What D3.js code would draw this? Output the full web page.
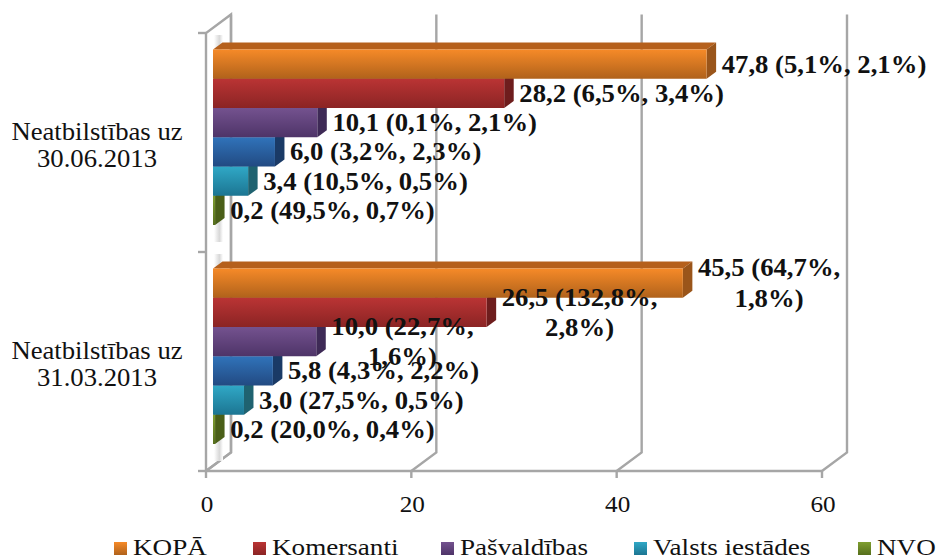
<!DOCTYPE html>
<html><head><meta charset="utf-8">
<script src="https://cdn.jsdelivr.net/npm/d3@7/dist/d3.min.js"></script>
<style>html,body{margin:0;padding:0;background:#fff}svg{display:block}
text{font-family:"Liberation Serif",serif;fill:#111}</style></head>
<body><div id="c"></div>
<script>
const categories=["Neatbilstības uz\n30.06.2013","Neatbilstības uz\n31.03.2013"];
const seriesKeys=["KOPĀ","Komersanti","Pašvaldības","Neuzrādīts","Valsts iestādes","NVO"];
const kopa=[47.8,45.5];
const komersanti=[28.2,26.5];
const pasvaldibas=[10.1,10.0];
const neuzradits=[6.0,5.8];
const valsts=[3.4,3.0];
const nvo=[0.2,0.2];
const values=[kopa,komersanti,pasvaldibas,neuzradits,valsts,nvo];
const labelsKopa=["47,8 (5,1%, 2,1%)","45,5 (64,7%,\n1,8%)"];
const labelsKomersanti=["28,2 (6,5%, 3,4%)","26,5 (132,8%,\n2,8%)"];
const labelsPasvaldibas=["10,1 (0,1%, 2,1%)","10,0 (22,7%,\n1,6%)"];
const labelsNeuzradits=["6,0 (3,2%, 2,3%)","5,8 (4,3%, 2,2%)"];
const labelsValsts=["3,4 (10,5%, 0,5%)","3,0 (27,5%, 0,5%)"];
const labelsNvo=["0,2 (49,5%, 0,7%)","0,2 (20,0%, 0,4%)"];
const labels=[labelsKopa,labelsKomersanti,labelsPasvaldibas,labelsNeuzradits,labelsValsts,labelsNvo];
const xTicks=[0,20,40,60];
const legendItems=["KOPĀ","Komersanti","Pašvaldības","Valsts iestādes","NVO"];
const legendX=[114,253,441,634,858];
const palette={"KOPĀ":["#f68a28","#b0621b","#b5601c","#9a551a"],"Komersanti":["#ba3434","#8b2424","#8b2424","#6e1d1d"],
"Pašvaldības":["#74528f","#4e3468","#4e3468","#3e2a56"],"Neuzrādīts":["#3073ba","#224a82","#224a82","#1a3a66"],
"Valsts iestādes":["#30a8c6","#1c7592","#1c7592","#1f6270"],"NVO":["#7f9e30","#566f1c","#566f1c","#4a5f18"]};

const W=936,H=560;
const svg=d3.select("#c").append("svg").attr("width",W).attr("height",H);
const defs=svg.append("defs");
seriesKeys.forEach((k,i)=>{
  const g=defs.append("linearGradient").attr("id","g"+i).attr("x1",0).attr("x2",0).attr("y1",0).attr("y2",1);
  g.append("stop").attr("offset","0%").attr("stop-color",palette[k][0]);
  g.append("stop").attr("offset","100%").attr("stop-color",palette[k][1]);
});
const wall=defs.append("linearGradient").attr("id","wall").attr("x1",0).attr("x2",1).attr("y1",0).attr("y2",0);
wall.append("stop").attr("offset","0%").attr("stop-color","#fff");
wall.append("stop").attr("offset","60%").attr("stop-color","#d8d8d8");
wall.append("stop").attr("offset","100%").attr("stop-color","#fff");

const x=d3.scaleLinear().domain([0,60]).range([206,822]);
const y=d3.scaleBand().domain(categories).range([33,471]);
const inner=d3.scaleBand().domain(seriesKeys).range([16.5,192]);
const dx=25,dy=-18.5;
const barShift=7,bdx=9.5,bdy=-7;
const grid="#a6a6a6";
const gridG=svg.append("g").attr("fill","none").attr("stroke",grid).attr("stroke-width",2.4);
gridG.append("path").attr("d",`M${x(0)},${y.range()[1]}V${y.range()[0]}l${dx},${dy}V${y.range()[1]+dy}L${x(0)},${y.range()[1]}`);
svg.append("g").selectAll("rect").data(categories).join("rect")
 .attr("x",x(0)+8).attr("width",9).attr("y",d=>y(d)+2).attr("height",y.bandwidth()-12).attr("fill","url(#wall)");
xTicks.forEach(t=>{
  gridG.append("path").attr("d",`M${x(t)},${y.range()[1]}l${dx},${dy}V${y.range()[0]+dy}`);
});
gridG.append("path").attr("d",`M${x(0)},${y.range()[1]}H${x(60)}`);
const tickVals=[...categories.map(c=>y(c)),y.range()[1]];
gridG.selectAll(".t").data(tickVals).join("path").attr("class","t").attr("d",d=>`M${x(0)-8},${d}H${x(0)}`);
gridG.selectAll(".b").data(xTicks).join("path").attr("class","b").attr("d",d=>`M${x(d)},${y.range()[1]}v7`);

const bars=svg.append("g");
const scaleV=v=>x(v)+barShift+v*0.06;
categories.forEach((c,ci)=>{
  seriesKeys.slice().reverse().forEach(s=>{
    const si=seriesKeys.indexOf(s);
    const v=values[si][ci];
    const x0=x(0)+barShift,x1=scaleV(v),y0=y(c)+inner(s),h=inner.bandwidth();
    const g=bars.append("g");
    g.append("path").attr("d",`M${x0},${y0}l${bdx},${bdy}H${x1+bdx}L${x1},${y0}Z`).attr("fill",palette[s][2]);
    g.append("path").attr("d",`M${x1},${y0}l${bdx},${bdy}v${h}L${x1},${y0+h}Z`).attr("fill",palette[s][3]);
    g.append("rect").attr("x",x0).attr("y",y0).attr("width",Math.max(0,x1-x0)).attr("height",h).attr("fill",`url(#g${si})`);
  });
});
const sx=1.09;
const lab=svg.append("g").attr("font-weight","bold").attr("font-size",24.5);
const lh=30.5;
categories.forEach((c,ci)=>{
  seriesKeys.forEach((s,si)=>{
    const lines=labels[si][ci].split("\n");
    const cy=y(c)+inner(s)+inner.bandwidth()/2;
    const left=scaleV(values[si][ci])+bdx+5.5;
    const t=lab.append("text").attr("text-anchor","middle");
    lines.forEach((l,i)=>t.append("tspan").text(l).attr("x",0).attr("y",cy+8.5+(i-(lines.length-1)/2)*lh));
    const w=d3.max(t.selectAll("tspan").nodes(),n=>n.getComputedTextLength());
    t.attr("transform",`translate(${left+w*sx/2},0) scale(${sx},1)`);
  });
});
const catG=svg.append("g").attr("font-size",24.5).attr("text-anchor","middle");
categories.forEach(c=>{
  const lines=c.split("\n");
  const t=catG.append("text").attr("transform","translate(97,0) scale(1.09,1)");
  lines.forEach((l,i)=>t.append("tspan").attr("x",0).attr("y",y(c)+y.bandwidth()/2+11+(i-0.5)*27.5).text(l));
});
svg.append("g").attr("font-size",24).attr("text-anchor","middle").selectAll("text").data(xTicks).join("text")
 .attr("transform",d=>`translate(${x(d)+1},512) scale(1.05,1)`).text(d=>d);
const leg=svg.append("g").selectAll("g").data(legendItems).join("g").attr("transform",(d,i)=>`translate(${legendX[i]},0)`);
leg.append("rect").attr("y",542).attr("width",13).attr("height",13)
 .attr("fill",d=>`url(#g${seriesKeys.indexOf(d)})`);
leg.append("text").attr("transform","translate(19,554.8) scale(1.13,1)").attr("font-size",24).text(d=>d);
</script></body></html>
